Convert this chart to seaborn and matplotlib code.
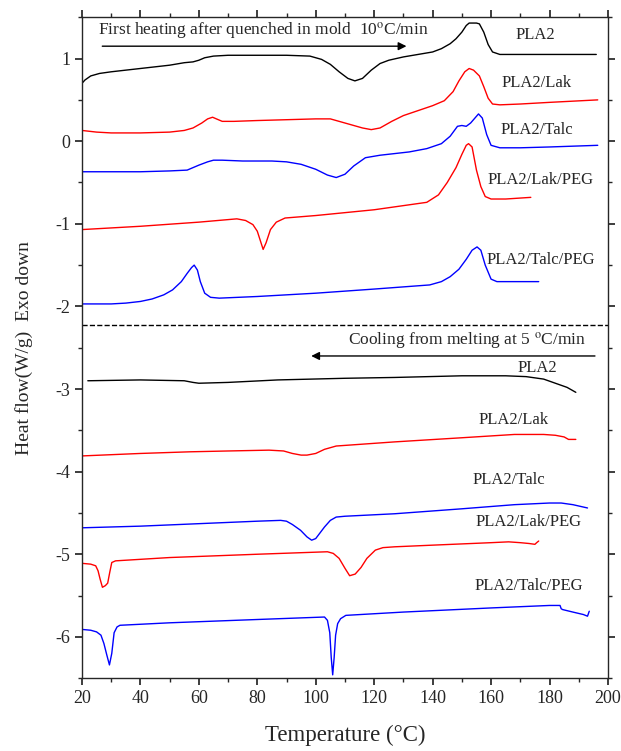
import pandas as pd
import seaborn as sns
import matplotlib.pyplot as plt

# first heating (10 C/min)
heat_pla2_t = [20, 21, 23, 26, 30, 40, 50, 55, 58, 60, 62, 65, 70, 80, 90, 98, 102, 105, 108, 111, 113.4, 116, 119, 122, 125, 130, 135, 140, 143, 146, 148, 150, 151.5, 152.5, 155, 156, 157.5, 159, 160.5, 163, 170, 180, 196]
heat_pla2_hf = [0.70, 0.74, 0.79, 0.82, 0.84, 0.88, 0.92, 0.95, 0.96, 0.98, 1.01, 1.03, 1.04, 1.04, 1.04, 1.03, 0.99, 0.93, 0.84, 0.76, 0.73, 0.76, 0.86, 0.94, 0.98, 1.02, 1.05, 1.08, 1.12, 1.18, 1.24, 1.32, 1.40, 1.43, 1.43, 1.42, 1.32, 1.17, 1.08, 1.05, 1.05, 1.05, 1.05]

heat_lak_t = [20, 25, 30, 40, 50, 55, 58, 61, 63, 64.7, 66, 68, 72, 80, 90, 100, 105, 108, 112, 116, 119, 122, 126, 130, 135, 140, 144, 147, 149, 151, 152.5, 154, 156, 157.5, 159, 160.5, 163, 170, 180, 196.5]
heat_lak_hf = [0.13, 0.11, 0.10, 0.10, 0.11, 0.13, 0.16, 0.22, 0.27, 0.29, 0.27, 0.24, 0.24, 0.25, 0.26, 0.27, 0.27, 0.24, 0.20, 0.16, 0.14, 0.16, 0.24, 0.31, 0.37, 0.43, 0.49, 0.60, 0.73, 0.84, 0.88, 0.86, 0.79, 0.66, 0.52, 0.45, 0.44, 0.45, 0.47, 0.50]

heat_talc_t = [20, 30, 40, 50, 56, 60, 63, 65, 68, 75, 85, 90, 95, 100, 104, 107, 110, 113, 117, 122, 127, 132, 138, 143, 146, 148.5, 150, 151.5, 153, 155.7, 157, 158.5, 160, 163, 170, 180, 196.5]
heat_talc_hf = [-0.37, -0.37, -0.37, -0.36, -0.35, -0.29, -0.25, -0.23, -0.23, -0.24, -0.24, -0.25, -0.28, -0.34, -0.41, -0.44, -0.40, -0.30, -0.20, -0.17, -0.15, -0.13, -0.09, -0.03, 0.06, 0.18, 0.19, 0.18, 0.22, 0.33, 0.28, 0.08, -0.05, -0.08, -0.08, -0.07, -0.05]

heat_lakpeg_t = [20, 40, 60, 73, 76, 78.5, 80, 81, 82, 83, 84.5, 86.5, 89.5, 100, 120, 138, 142, 145, 148, 150, 151.5, 152.3, 153.5, 155, 156.5, 158, 160, 165, 173.6]
heat_lakpeg_hf = [-1.07, -1.03, -0.98, -0.94, -0.96, -1.01, -1.09, -1.20, -1.31, -1.23, -1.07, -0.98, -0.93, -0.90, -0.83, -0.74, -0.65, -0.50, -0.32, -0.16, -0.05, -0.03, -0.07, -0.35, -0.55, -0.67, -0.70, -0.70, -0.68]

heat_talcpeg_t = [20, 25, 30, 35, 40, 44, 48, 51, 54, 56, 57.5, 58.4, 59.5, 60.5, 62, 64, 67, 80, 100, 120, 139, 143, 146, 149, 151.5, 153.5, 155.2, 156.5, 158, 160, 162, 170, 176.3]
heat_talcpeg_hf = [-1.97, -1.97, -1.97, -1.96, -1.94, -1.91, -1.86, -1.80, -1.70, -1.60, -1.53, -1.50, -1.56, -1.70, -1.84, -1.89, -1.90, -1.88, -1.84, -1.79, -1.74, -1.70, -1.64, -1.55, -1.43, -1.32, -1.28, -1.32, -1.50, -1.67, -1.70, -1.70, -1.70]

# cooling from melt (5 C/min)
cool_pla2_t = [22, 40, 55, 58, 60, 70, 87, 110, 127, 150, 165, 172, 178, 182, 186, 189]
cool_pla2_hf = [-2.90, -2.89, -2.90, -2.92, -2.93, -2.92, -2.89, -2.87, -2.86, -2.84, -2.84, -2.85, -2.88, -2.93, -2.98, -3.04]

cool_lak_t = [20, 40, 57, 70, 84, 89, 92, 95, 97, 100, 103, 107, 115, 127, 150, 168, 178, 182, 185, 186.5, 189]
cool_lak_hf = [-3.81, -3.78, -3.76, -3.75, -3.74, -3.75, -3.78, -3.80, -3.80, -3.78, -3.73, -3.69, -3.67, -3.64, -3.59, -3.55, -3.55, -3.56, -3.58, -3.61, -3.61]

cool_talc_t = [20, 40, 60, 80, 88, 90, 92, 94.8, 97, 98.6, 100, 101.5, 103, 105, 107, 110, 127, 150, 168, 180, 184, 188, 193]
cool_talc_hf = [-4.68, -4.66, -4.63, -4.60, -4.59, -4.60, -4.64, -4.71, -4.79, -4.83, -4.81, -4.74, -4.67, -4.59, -4.55, -4.54, -4.51, -4.45, -4.40, -4.38, -4.38, -4.40, -4.44]

cool_lakpeg_t = [20, 23, 24.7, 25.5, 26.2, 27, 28, 28.8, 29.5, 30.2, 31.5, 50, 80, 104, 106, 108, 110, 111.6, 113.5, 115.5, 117.5, 120.4, 123, 127, 140, 160, 166, 170, 173, 175, 175.6, 176.3]
cool_lakpeg_hf = [-5.11, -5.12, -5.14, -5.20, -5.30, -5.40, -5.38, -5.35, -5.22, -5.10, -5.08, -5.04, -5.00, -4.97, -4.99, -5.05, -5.17, -5.26, -5.24, -5.16, -5.05, -4.95, -4.92, -4.91, -4.89, -4.86, -4.85, -4.86, -4.87, -4.88, -4.86, -4.84]

cool_talcpeg_t = [20, 23, 25, 26.5, 27.5, 28.5, 29.4, 30.2, 31, 32, 33, 50, 80, 103, 104, 104.8, 105.3, 105.8, 106.3, 106.8, 107.5, 108.5, 110.3, 130, 160, 180, 183.6, 184, 184.5, 188, 191.6, 193, 193.6]
cool_talcpeg_hf = [-5.91, -5.92, -5.94, -5.98, -6.08, -6.22, -6.34, -6.20, -5.95, -5.88, -5.86, -5.83, -5.79, -5.76, -5.80, -5.95, -6.25, -6.46, -6.25, -5.98, -5.84, -5.78, -5.74, -5.70, -5.65, -5.62, -5.62, -5.66, -5.67, -5.70, -5.73, -5.75, -5.69]

curves = [
    (heat_pla2_t, heat_pla2_hf, 'black', 'PLA2', 175, 1.28),
    (heat_lak_t, heat_lak_hf, 'red', 'PLA2/Lak', 175.7, 0.70),
    (heat_talc_t, heat_talc_hf, 'blue', 'PLA2/Talc', 175.7, 0.14),
    (heat_lakpeg_t, heat_lakpeg_hf, 'red', 'PLA2/Lak/PEG', 177, -0.47),
    (heat_talcpeg_t, heat_talcpeg_hf, 'blue', 'PLA2/Talc/PEG', 177, -1.44),
    (cool_pla2_t, cool_pla2_hf, 'black', 'PLA2', 175.7, -2.74),
    (cool_lak_t, cool_lak_hf, 'red', 'PLA2/Lak', 167.6, -3.38),
    (cool_talc_t, cool_talc_hf, 'blue', 'PLA2/Talc', 166, -4.10),
    (cool_lakpeg_t, cool_lakpeg_hf, 'red', 'PLA2/Lak/PEG', 173, -4.61),
    (cool_talcpeg_t, cool_talcpeg_hf, 'blue', 'PLA2/Talc/PEG', 173, -5.38),
]

sns.set_theme(style="ticks")
plt.rcParams['font.family'] = ['Liberation Serif', 'DejaVu Serif']
plt.rcParams['mathtext.fontset'] = 'stix'
plt.rcParams['axes.unicode_minus'] = False

fig = plt.figure(figsize=(6.21, 7.51), dpi=100)
ax = fig.add_axes([0.132, 0.097, 0.847, 0.88])

for t, hf, col, name, lx, ly in curves:
    sns.lineplot(x=t, y=hf, color=col, linewidth=1.0, sort=False, ax=ax)
    ax.text(lx, ly, name, ha='center', va='center', fontsize=12)

# separator between heating and cooling
ax.axhline(-2.23, color='black', linestyle='--', linewidth=1.0)

ax.annotate('', xy=(132, 1.15), xytext=(26, 1.15),
            arrowprops=dict(arrowstyle='-|>', color='black', lw=1.0))
ax.text(25.4, 1.34, 'First heating after quenched in mold  10$^{\\rm o}$C/min',
        ha='left', va='center', fontsize=12.5)
ax.annotate('', xy=(97.5, -2.60), xytext=(196.5, -2.60),
            arrowprops=dict(arrowstyle='-|>', color='black', lw=1.0))
ax.text(192.5, -2.41, 'Cooling from melting at 5 $^{\\rm o}$C/min',
        ha='right', va='center', fontsize=12.5)

ax.set_xlim(20, 200)
ax.set_ylim(-6.5, 1.5)
ax.set_xticks(range(20, 201, 20))
ax.set_xticks(range(30, 200, 20), minor=True)
ax.set_yticks(range(-6, 2))
ax.set_yticks([-6.5, -5.5, -4.5, -3.5, -2.5, -1.5, -0.5, 0.5, 1.5], minor=True)
ax.tick_params(which='both', direction='out', top=True, right=True, labelsize=13)
ax.tick_params(which='major', length=5)
ax.tick_params(which='minor', length=3)
for s in ax.spines.values():
    s.set_linewidth(1.0)

ax.set_xlabel('Temperature (°C)', fontsize=16.5, labelpad=13)
ax.set_ylabel('Heat flow(W/g)  Exo down', fontsize=14, labelpad=16)

fig.savefig('out.png', dpi=100)
